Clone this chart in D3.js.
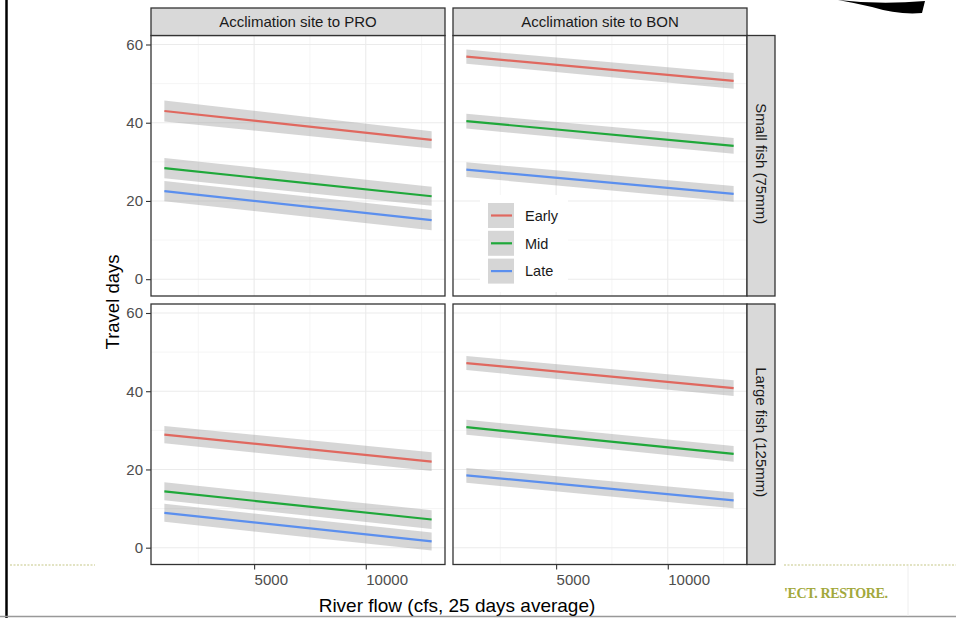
<!DOCTYPE html>
<html>
<head>
<meta charset="utf-8">
<script src="https://cdn.jsdelivr.net/npm/d3@7"></script>
<style>
  body { margin: 0; background: #fff; }
  svg { display: block; font-family: Arial, "Liberation Sans", sans-serif; }
</style>
</head>
<body>
<svg id="chart" width="956" height="618"></svg>
<script>
// facet labels and groups
var sites = ["Acclimation site to PRO", "Acclimation site to BON"];
var sizes = ["Small fish (75mm)", "Large fish (125mm)"];
var timing = ["Early", "Mid", "Late"];
var colors = ["#e0685f", "#1fa83a", "#5b8fee"];

// river flow at both ends of the fitted lines
var flow = [980, 12950];

// fitted travel days [start, end], rows = Early, Mid, Late
var fitProSmall = [[43.0, 35.6], [28.4, 21.2], [22.5, 15.1]];
var fitBonSmall = [[56.9, 50.7], [40.4, 34.1], [28.0, 21.8]];
var fitProLarge = [[28.9, 22.0], [14.4, 7.2], [8.9, 1.6]];
var fitBonLarge = [[47.2, 40.8], [30.8, 24.0], [18.5, 12.1]];

// half width of the confidence band [start, end]
var seProSmall = [[2.7, 2.2], [2.6, 2.4], [2.6, 2.6]];
var seBonSmall = [[1.8, 2.0], [1.9, 2.0], [1.9, 2.0]];
var seProLarge = [[2.2, 2.4], [2.3, 2.4], [2.3, 2.3]];
var seBonLarge = [[1.8, 2.0], [1.9, 2.0], [1.9, 2.0]];

var yTicks = [0, 20, 40, 60];
var yMinor = [10, 30, 50];
var xTicks = [5000, 10000];
var xMinor = [2500, 7500, 12500];

var panels = [
  { col: 0, row: 0, fit: fitProSmall, se: seProSmall },
  { col: 1, row: 0, fit: fitBonSmall, se: seBonSmall },
  { col: 0, row: 1, fit: fitProLarge, se: seProLarge },
  { col: 1, row: 1, fit: fitBonLarge, se: seBonLarge }
];

var svg = d3.select("#chart");

var colX = [151, 453], panelW = 294;
var rowY = [35.5, 304], panelH = 260.5;

var x = d3.scaleLinear().domain([382, 13548]).range([0, panelW]);
var y = d3.scaleLinear().domain([-4.3, 62.3]).range([panelH, 0]);

// slide decorations
svg.append("line").attr("x1", 6.5).attr("x2", 6.5).attr("y1", 0).attr("y2", 618)
  .attr("stroke", "#000").attr("stroke-width", 2.5);
svg.append("line").attr("x1", 0).attr("x2", 956).attr("y1", 616.5).attr("y2", 616.5)
  .attr("stroke", "#999").attr("stroke-width", 1.5);
svg.append("path")
  .attr("d", "M838,0 Q880,5 925,1 L922,13 Q898,15 872,7 Q855,3 838,0 Z")
  .attr("fill", "#000");
[[10, 95], [784, 956]].forEach(function (s) {
  svg.append("line").attr("x1", s[0]).attr("x2", s[1]).attr("y1", 565).attr("y2", 565)
    .attr("stroke", "#d9dab0").attr("stroke-width", 1.5).attr("stroke-dasharray", "2,1.5");
});
svg.append("line").attr("x1", 908).attr("x2", 908).attr("y1", 566).attr("y2", 616)
  .attr("stroke", "#eee").attr("stroke-width", 1);
svg.append("text").attr("x", 784).attr("y", 598)
  .attr("font-family", "'Liberation Serif', 'DejaVu Serif', serif")
  .attr("font-weight", "bold").attr("font-size", 14)
  .attr("textLength", 104).attr("fill", "#a2a83c")
  .text("'ECT. RESTORE.");

panels.forEach(function (p) {
  var g = svg.append("g")
    .attr("transform", "translate(" + colX[p.col] + "," + rowY[p.row] + ")");

  g.append("rect").attr("width", panelW).attr("height", panelH).attr("fill", "#fff");

  g.selectAll(".ym").data(yMinor).enter().append("line")
    .attr("x1", 0).attr("x2", panelW)
    .attr("y1", function (d) { return y(d); }).attr("y2", function (d) { return y(d); })
    .attr("stroke", "#f3f3f3").attr("stroke-width", 0.8);
  g.selectAll(".xm").data(xMinor).enter().append("line")
    .attr("y1", 0).attr("y2", panelH)
    .attr("x1", function (d) { return x(d); }).attr("x2", function (d) { return x(d); })
    .attr("stroke", "#f3f3f3").attr("stroke-width", 0.8);
  g.selectAll(".yg").data(yTicks).enter().append("line")
    .attr("x1", 0).attr("x2", panelW)
    .attr("y1", function (d) { return y(d); }).attr("y2", function (d) { return y(d); })
    .attr("stroke", "#ebebeb").attr("stroke-width", 1.1);
  g.selectAll(".xg").data(xTicks).enter().append("line")
    .attr("y1", 0).attr("y2", panelH)
    .attr("x1", function (d) { return x(d); }).attr("x2", function (d) { return x(d); })
    .attr("stroke", "#ebebeb").attr("stroke-width", 1.1);

  var band = d3.area()
    .x(function (d) { return x(d.f); })
    .y0(function (d) { return y(d.v - d.s); })
    .y1(function (d) { return y(d.v + d.s); });
  var line = d3.line()
    .x(function (d) { return x(d.f); })
    .y(function (d) { return y(d.v); });

  timing.forEach(function (t, i) {
    var pts = flow.map(function (f, j) { return { f: f, v: p.fit[i][j], s: p.se[i][j] }; });
    g.append("path").datum(pts).attr("d", band)
      .attr("fill", "#999").attr("fill-opacity", 0.4);
  });
  timing.forEach(function (t, i) {
    var pts = flow.map(function (f, j) { return { f: f, v: p.fit[i][j] }; });
    g.append("path").datum(pts).attr("d", line)
      .attr("fill", "none").attr("stroke", colors[i]).attr("stroke-width", 2.2);
  });

  // legend sits inside the top right panel
  if (p.col === 1 && p.row === 0) {
    var lg = g.append("g").attr("transform", "translate(" + (480 - colX[1]) + "," + (195 - rowY[0]) + ")");
    lg.append("rect").attr("width", 88).attr("height", 97).attr("fill", "#fff");
    timing.forEach(function (t, i) {
      var k = lg.append("g").attr("transform", "translate(8," + (8 + i * 27.8) + ")");
      k.append("rect").attr("width", 26).attr("height", 25).attr("fill", "#d6d6d6");
      k.append("line").attr("x1", 3).attr("x2", 24).attr("y1", 12.5).attr("y2", 12.5)
        .attr("stroke", colors[i]).attr("stroke-width", 2.2);
      k.append("text").attr("x", 37).attr("y", 12.5).attr("dy", "0.36em")
        .attr("font-size", 14.5).attr("fill", "#1a1a1a").text(t);
    });
  }

  g.append("rect").attr("width", panelW).attr("height", panelH)
    .attr("fill", "none").attr("stroke", "#333").attr("stroke-width", 1.3);

  if (p.col === 0) {
    var ya = g.append("g").call(d3.axisLeft(y).tickValues(yTicks).tickSize(5).tickPadding(3));
    ya.select(".domain").remove();
    ya.selectAll("line").attr("stroke", "#333").attr("stroke-width", 1.1);
    ya.selectAll("text").attr("font-size", 15).attr("fill", "#4d4d4d")
      .attr("font-family", "Arial, 'Liberation Sans', sans-serif");
  }
  if (p.row === 1) {
    var xa = g.append("g").attr("transform", "translate(0," + panelH + ")")
      .call(d3.axisBottom(x).tickValues(xTicks).tickFormat(d3.format("d")).tickSize(5).tickPadding(5));
    xa.select(".domain").remove();
    xa.selectAll("line").attr("stroke", "#333").attr("stroke-width", 1.1);
    xa.selectAll("text").attr("font-size", 15).attr("fill", "#4d4d4d")
      .attr("text-anchor", "start")
      .attr("font-family", "Arial, 'Liberation Sans', sans-serif");
  }
});

// column strips
sites.forEach(function (s, i) {
  svg.append("rect").attr("x", colX[i]).attr("y", 8).attr("width", panelW).attr("height", 27.5)
    .attr("fill", "#d9d9d9").attr("stroke", "#333").attr("stroke-width", 1.3);
  svg.append("text").attr("x", colX[i] + panelW / 2).attr("y", 22).attr("dy", "0.35em")
    .attr("text-anchor", "middle").attr("font-size", 15).attr("fill", "#1a1a1a").text(s);
});

// row strips
sizes.forEach(function (s, i) {
  svg.append("rect").attr("x", colX[1] + panelW).attr("y", rowY[i]).attr("width", 28).attr("height", panelH)
    .attr("fill", "#d9d9d9").attr("stroke", "#333").attr("stroke-width", 1.3);
  var cx = colX[1] + panelW + 14, cy = rowY[i] + panelH / 2 - 2;
  svg.append("text").attr("transform", "translate(" + cx + "," + cy + ") rotate(90)")
    .attr("text-anchor", "middle").attr("dy", "0.35em")
    .attr("font-size", 15).attr("fill", "#1a1a1a").text(s);
});

// axis titles
svg.append("text").attr("x", 457).attr("y", 605).attr("dy", "0.35em")
  .attr("text-anchor", "middle").attr("font-size", 19).attr("fill", "#000")
  .text("River flow (cfs, 25 days average)");
svg.append("text").attr("transform", "translate(113,302) rotate(-90)")
  .attr("dy", "0.35em").attr("text-anchor", "middle").attr("font-size", 18.5).attr("fill", "#000")
  .text("Travel days");
</script>
</body>
</html>
